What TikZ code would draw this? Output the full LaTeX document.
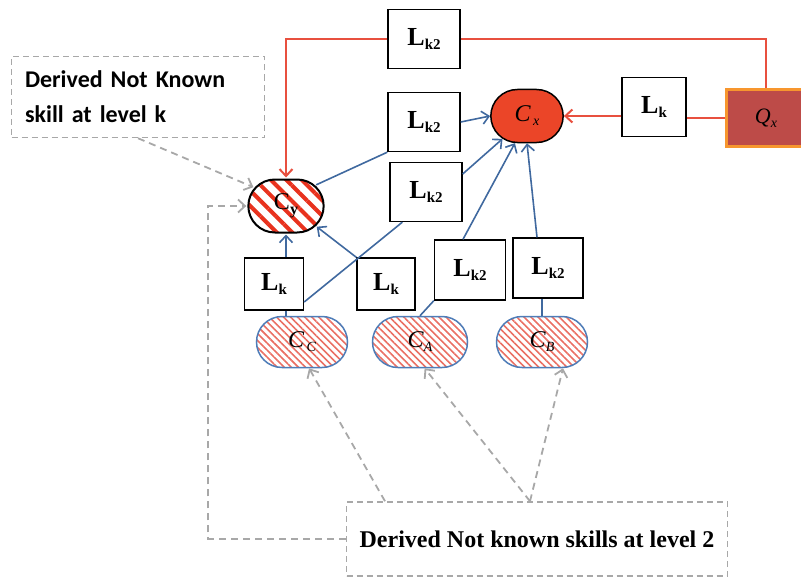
\documentclass[tikz,border=0pt]{standalone}
\usepackage{fontspec}
\setmainfont{Liberation Serif}
\newfontfamily\calibri{Carlito}
\usetikzlibrary{shapes.misc,patterns.meta,arrows.meta}

\definecolor{lnred}{HTML}{E8503F}
\definecolor{cxred}{HTML}{EB4528}
\definecolor{qxred}{HTML}{BD4B48}
\definecolor{qxedge}{HTML}{F7962E}
\definecolor{lnblue}{HTML}{40699F}
\definecolor{edgeblue}{HTML}{4F7DB8}
\definecolor{lngrey}{HTML}{A8A8A8}
\definecolor{hatchred}{HTML}{E8321E}
\definecolor{hatchpink}{HTML}{EA6F63}

\newcommand{\Lsub}[1]{\textbf{L}\raisebox{-4pt}{\fontsize{15}{15}\selectfont\bfseries #1}}
\newcommand{\Csub}[2]{\textit{#1}\raisebox{-4pt}{\fontsize{14}{14}\selectfont\itshape #2}}

\begin{document}
\begin{tikzpicture}[x=1pt, y=-1pt, >={Straight Barb[length=7pt,width=13pt]},
		lbox/.style = {draw, line width=1.4pt, fill=white, inner sep=0pt, font=\fontsize{26}{26}\selectfont},
		skill/.style = {rounded rectangle, inner sep=0pt, minimum height=51pt, font=\fontsize{24}{24}\selectfont,
			draw=edgeblue, line width=1.5pt, pattern={Lines[angle=-45,distance=5pt,line width=1.6pt]}, pattern color=hatchpink},
		note/.style = {draw=lngrey, line width=1.5pt, dash pattern=on 6pt off 4pt, inner sep=0pt},
		redline/.style = {draw=lnred, line width=2pt},
		blueline/.style = {draw=lnblue, line width=1.6pt},
		greyline/.style = {draw=lngrey, line width=1.8pt, dash pattern=on 7pt off 5pt}
	]
	\useasboundingbox (0,0) rectangle (801,578);

	% boxes of the links
	\node[lbox, minimum width=72pt, minimum height=59pt] (k2top) at (424,39) {\Lsub{k2}};
	\node[lbox, minimum width=72pt, minimum height=59pt] (k2mid) at (424,122) {\Lsub{k2}};
	\node[lbox, minimum width=72pt, minimum height=59pt] (k2low) at (426,192) {\Lsub{k2}};
	\node[lbox, minimum width=64pt, minimum height=59pt] (kq) at (654,107) {\Lsub{k}};
	\node[lbox, minimum width=59pt, minimum height=52pt] (kc) at (274,284) {\Lsub{k}};
	\node[lbox, minimum width=58pt, minimum height=52pt] (ka) at (386,284) {\Lsub{k}};
	\node[lbox, minimum width=71pt, minimum height=60pt] (k2a) at (470,270) {\Lsub{k2}};
	\node[lbox, minimum width=70pt, minimum height=60pt] (k2b) at (548,268) {\Lsub{k2}};

	% skills
	\node[rounded rectangle, draw, line width=1.5pt, fill=cxred, minimum width=79pt, minimum height=53pt,
		font=\fontsize{24}{24}\selectfont] (cx) at (527,116) {\Csub{C}{\,x}};
	\node[rounded rectangle, draw, line width=2pt, minimum width=82pt, minimum height=53pt,
		pattern={Lines[angle=-45,distance=11pt,line width=4pt]}, pattern color=hatchred,
		font=\fontsize{24}{24}\selectfont] (cy) at (286,206) {C\raisebox{-5pt}{\fontsize{16}{16}\selectfont\bfseries y}};
	\node[draw=qxedge, line width=3pt, fill=qxred, minimum width=80pt, minimum height=56pt, inner sep=0pt,
		font=\fontsize{22}{22}\selectfont] (qx) at (766,118) {\Csub{Q}{x}};
	\node[skill, minimum width=91pt] (cc) at (302,342) {\Csub{C}{\,C}};
	\node[skill, minimum width=95pt] (ca) at (420,342) {\Csub{C}{A}};
	\node[skill, minimum width=91pt] (cb) at (542,342) {\Csub{C}{B}};

	% notes
	\node[note, minimum width=253pt, minimum height=81pt, text width=226pt, align=left,
		font=\calibri\bfseries\fontsize{24}{35}\selectfont] (notek) at (138,97) {Derived Not Known\\skill at level k};
	\node[note, minimum width=381pt, minimum height=74pt,
		font=\bfseries\fontsize{24}{24}\selectfont] (notetwo) at (537,539) {Derived Not known skills at level 2};

	% red links
	\draw[redline] (qx.north) |- (k2top.east);
	\draw[redline, ->] (k2top.west) -| (cy.north);
	\draw[redline] (qx.west) -- (qx.west -| kq.east);
	\draw[redline, ->] (kq.west |- cx.east) -- (cx.east);

	% blue links
	\draw[blueline] (cy.35) -- (k2mid.south west);
	\draw[blueline, ->] (k2mid.east) -- (cx.west);
	\draw[blueline, ->] (kc.north -| cy.south) -- (cy.south);
	\draw[blueline] (kc.south -| cy.south) -- (cc.north -| cy.south);
	\draw[blueline] ([yshift=-18pt]kc.east) -- ([xshift=13pt]k2low.south west);
	\draw[blueline, ->] ([yshift=18pt]k2low.east) -- (cx.223);
	\draw[blueline, ->] (ka.north west) -- (cy.-34);
	\draw[blueline] (ca.north) -- (k2a.south west);
	\draw[blueline, ->] ([xshift=-7pt]k2a.north) -- (cx.-114);
	\draw[blueline, ->] ([xshift=-11pt]k2b.north) -- (cx.south);
	\draw[blueline] (cb.north) -- (cb.north |- k2b.south);

	% grey hints
	\draw[greyline, ->] (notek.south) -- (cy.150);
	\draw[greyline, ->] (notetwo.west) -| ([xshift=-38pt]cy.west) -- (cy.west);
	\draw[greyline, ->] ([xshift=-152pt]notetwo.north) -- (cc.-75);
	\draw[greyline, ->] ([xshift=-7pt]notetwo.north) -- (ca.-80);
	\draw[greyline, ->] ([xshift=-7pt]notetwo.north) -- ([xshift=21pt]cb.south);
\end{tikzpicture}
\end{document}
